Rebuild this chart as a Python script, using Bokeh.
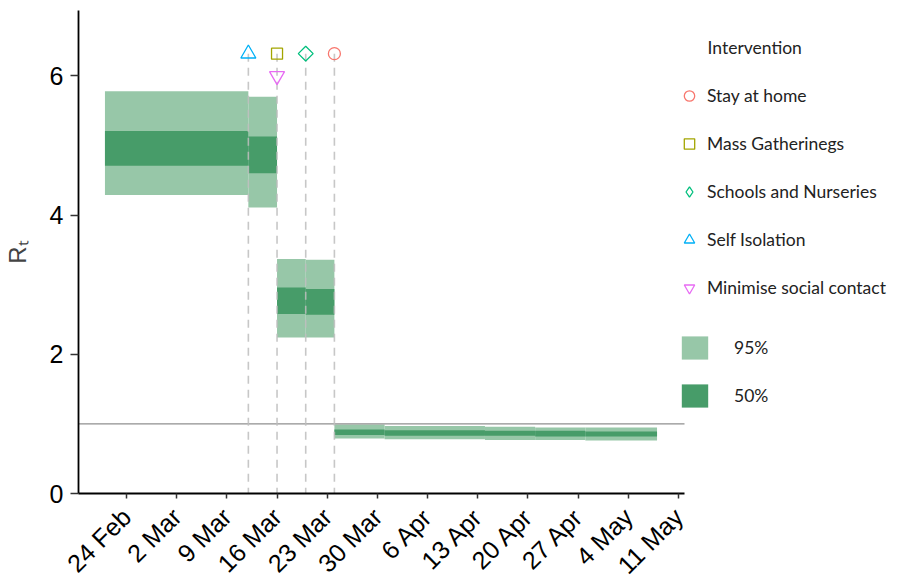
import pandas as pd
from math import pi, nan
from bokeh.plotting import figure
from bokeh.models import Range1d, FixedTicker, Label, Legend, LegendItem, ColumnDataSource
from bokeh.embed import file_html
from bokeh.resources import INLINE

# ---------------- data ----------------
ORIGIN = "2020-02-24"

tick_dates = ["2020-02-24", "2020-03-02", "2020-03-09", "2020-03-16", "2020-03-23",
              "2020-03-30", "2020-04-06", "2020-04-13", "2020-04-20", "2020-04-27",
              "2020-05-04", "2020-05-11"]
tick_labels = ["24 Feb", "2 Mar", "9 Mar", "16 Mar", "23 Mar", "30 Mar", "6 Apr",
               "13 Apr", "20 Apr", "27 Apr", "4 May", "11 May"]

seg_start = ["2020-02-21", "2020-03-12", "2020-03-16", "2020-03-20", "2020-03-24",
             "2020-03-31", "2020-04-14", "2020-04-21", "2020-04-28"]
seg_end = ["2020-03-12", "2020-03-16", "2020-03-20", "2020-03-24", "2020-03-31",
           "2020-04-14", "2020-04-21", "2020-04-28", "2020-05-08"]
lo95 = [4.29, 4.11, 2.24, 2.24, 0.79, 0.78, 0.77, 0.77, 0.76]
hi95 = [5.78, 5.70, 3.37, 3.36, 0.99, 0.97, 0.96, 0.95, 0.95]
lo50 = [4.71, 4.60, 2.58, 2.57, 0.84, 0.83, 0.83, 0.82, 0.82]
hi50 = [5.21, 5.13, 2.96, 2.94, 0.92, 0.91, 0.90, 0.90, 0.89]

interv_names = ["Stay at home", "Mass Gatherinegs", "Schools and Nurseries",
                "Self Isolation", "Minimise social contact"]
interv_dates = ["2020-03-24", "2020-03-16", "2020-03-20", "2020-03-12", "2020-03-16"]
interv_y = [6.32, 6.32, 6.32, 6.32, 6.0]

vline_dates = ["2020-03-12", "2020-03-16", "2020-03-20", "2020-03-24"]
vline_top = [6.32, 6.32, 6.32, 6.32]

ref_level = 1.0
y_ticks = [0, 2, 4, 6]

# ---------------- helpers ----------------
def days(lst):
    o = pd.Timestamp(ORIGIN)
    return [(pd.Timestamp(d) - o).days for d in lst]

tick_pos = days(tick_dates)

# layout / styles
X_START, X_AXIS_END = -6.69, 77.83          # visible axis extent (days from 24 Feb)
AXIS_PX, FRAME_W, FRAME_H = 606, 821, 483
X_END = X_START + (X_AXIS_END - X_START) * FRAME_W / AXIS_PX

# plot markers (diamond drawn as a square turned 45 degrees)
marker_types = ["circle", "square", "square", "triangle", "inverted_triangle"]
marker_angles = [0, 0, pi / 4, 0, 0]
marker_sizes = [12, 11, 10.5, 15, 15]
legend_markers = ["circle", "square", "diamond", "triangle", "inverted_triangle"]
marker_colors = ["#F8766D", "#A3A500", "#00BF7D", "#00B0F6", "#E76BF3"]
light = "#97C7A8"
dark = "#479C69"
AX_FONT = "Liberation Sans"
LEG_FONT = "Lato"
LEG_SIZE = "17.5px"

p = figure(frame_width=FRAME_W, frame_height=FRAME_H,
           min_border_left=77, min_border_right=0, min_border_top=10, min_border_bottom=88,
           x_range=Range1d(X_START, X_END), y_range=Range1d(0, 6.94),
           output_backend="svg", toolbar_location=None)
p.outline_line_color = None
p.grid.visible = False
p.background_fill_color = "white"
p.border_fill_color = "white"

src = ColumnDataSource(dict(left=days(seg_start), right=days(seg_end),
                            lo95=lo95, hi95=hi95, lo50=lo50, hi50=hi50))
r95 = p.quad(left="left", right="right", bottom="lo95", top="hi95", source=src,
             fill_color=light, line_color=None)
r50 = p.quad(left="left", right="right", bottom="lo50", top="hi50", source=src,
             fill_color=dark, line_color=None)

# reference line at R = 1 across the axis extent
p.segment(x0=[X_START], y0=[ref_level], x1=[X_AXIS_END], y1=[ref_level],
          line_color="#8f8f8f", line_width=1.2)

vx = days(vline_dates)
p.segment(x0=vx, y0=vline_top, x1=vx, y1=[0] * len(vx), line_color="#BDBDBD",
          line_width=1.6, line_dash="8 6", line_alpha=0.85)

ix = days(interv_dates)
legend_rs = []
for i in range(len(interv_names)):
    r = p.scatter(x=[ix[i]], y=[interv_y[i]], marker=marker_types[i],
                  size=marker_sizes[i], angle=marker_angles[i],
                  fill_color=None, line_color=marker_colors[i], line_width=1.3)
    if legend_markers[i] != marker_types[i]:
        # legend key only (legend keys are drawn unrotated)
        r = p.scatter(x=[nan], y=[nan], marker=legend_markers[i], size=10,
                      fill_color=None, line_color=marker_colors[i], line_width=1.3)
    legend_rs.append(r)

# axes
p.xaxis.ticker = FixedTicker(ticks=tick_pos)
p.xaxis.major_label_overrides = {t: l for t, l in zip(tick_pos, tick_labels)}
p.xaxis.major_label_orientation = pi / 4
p.xaxis.bounds = (X_START, X_AXIS_END)
p.yaxis.ticker = FixedTicker(ticks=y_ticks)
for ax in (p.xaxis, p.yaxis):
    ax.axis_line_width = 1.8
    ax.axis_line_color = "black"
    ax.major_tick_line_color = "#333333"
    ax.major_tick_line_width = 1.5
    ax.major_tick_in = 0
    ax.minor_tick_line_color = None
    ax.major_label_text_font = AX_FONT
    ax.major_label_text_color = "black"
p.xaxis.major_label_text_font_size = "25px"
p.yaxis.major_label_text_font_size = "25px"
p.xaxis.major_tick_out = 5
p.yaxis.major_tick_out = 8
p.xaxis.major_label_standoff = 14
p.yaxis.major_label_standoff = 7

p.yaxis.axis_label = "Rₜ"
p.yaxis.axis_label_text_font = AX_FONT
p.yaxis.axis_label_text_font_size = "24px"
p.yaxis.axis_label_text_font_style = "normal"
p.yaxis.axis_label_standoff = 16

# legend title
p.add_layout(Label(x=629, y=446, x_units="screen", y_units="screen", text="Intervention",
                   text_align="left", text_baseline="middle",
                   text_font=LEG_FONT, text_font_size=LEG_SIZE, text_color="#222222"))

leg1 = Legend(items=[LegendItem(label=n, renderers=[r]) for n, r in zip(interv_names, legend_rs)],
              location=(598, 191.5), glyph_width=26, glyph_height=29, spacing=19,
              padding=0, margin=0, border_line_color=None, background_fill_alpha=0,
              label_text_font=LEG_FONT, label_text_font_size=LEG_SIZE,
              label_text_color="#222222", label_standoff=5)
leg2 = Legend(items=[LegendItem(label="95%", renderers=[r95]),
                     LegendItem(label="50%", renderers=[r50])],
              location=(600, 83), glyph_width=33, glyph_height=29, spacing=19,
              padding=0, margin=0, border_line_color=None, background_fill_alpha=0,
              label_text_font=LEG_FONT, label_text_font_size=LEG_SIZE,
              label_text_color="#222222", label_standoff=23)
p.add_layout(leg1)
p.add_layout(leg2)

open("out.html", "w").write(file_html(p, INLINE))
